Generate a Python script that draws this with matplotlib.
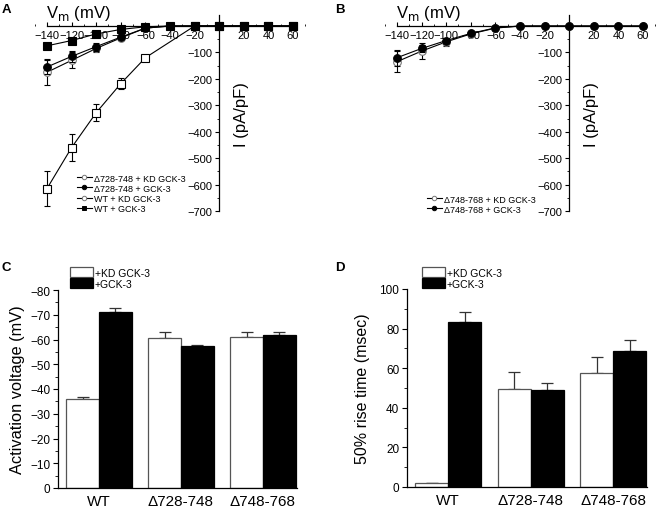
import numpy as np
import matplotlib
matplotlib.use("Agg")
import matplotlib.pyplot as plt
from matplotlib.patches import Patch
from matplotlib.lines import Line2D
from matplotlib.ticker import MultipleLocator

plt.rcParams['font.family'] = ['Liberation Sans', 'DejaVu Sans']

# ---------------- data ----------------
volts = [-140, -120, -100, -80, -60, -40, -20, 0, 20, 40, 60]
volts_wt_kd = [-140, -120, -100, -80, -60, -20, 0, 20, 40, 60]

wt_kd = [-615, -460, -328, -218, -120, 0, 0, 0, 0, 0]
wt_kd_err = [65, 50, 32, 20, 5, 0, 0, 0, 0, 0]
wt_gck = [-75, -55, -30, -13, -3, 0, 0, 0, 0, 0, 0]
wt_gck_err = [4, 4, 3, 2, 1, 0, 0, 0, 0, 0, 0]
d728_kd = [-175, -130, -85, -45, -8, 0, 0, 0, 0, 0, 0]
d728_kd_err = [50, 30, 15, 6, 2, 0, 0, 0, 0, 0, 0]
d728_gck = [-155, -115, -78, -42, -8, 0, 0, 0, 0, 0, 0]
d728_gck_err = [25, 20, 15, 6, 2, 0, 0, 0, 0, 0, 0]

d748_kd = [-135, -95, -60, -30, -8, 0, 0, 0, 0, 0, 0]
d748_kd_err = [40, 30, 15, 6, 2, 0, 0, 0, 0, 0, 0]
d748_gck = [-120, -85, -55, -28, -7, 0, 0, 0, 0, 0, 0]
d748_gck_err = [30, 15, 10, 5, 2, 0, 0, 0, 0, 0, 0]

groups = ['WT', 'Δ728-748', 'Δ748-768']
act_kd = [-36.0, -60.8, -61.2]
act_kd_err = [0.7, 2.1, 1.7]
act_gck = [-71.0, -57.3, -61.7]
act_gck_err = [1.6, 0.5, 1.4]

rise_kd = [1.8, 49.7, 57.5]
rise_kd_err = [0.3, 8.5, 8.0]
rise_gck = [83.3, 49.1, 68.9]
rise_gck_err = [5.0, 3.5, 5.5]

W, H = 656, 510
fig = plt.figure(figsize=(W / 100, H / 100), dpi=100)


def px_axes(x0, y0, x1, y1):
    return fig.add_axes([x0 / W, 1 - y1 / H, (x1 - x0) / W, (y1 - y0) / H])


def iv_axes(xpix140):
    sx = 246 / 200.0
    sy = 185 / 700.0
    xlo, xhi = -150, 70
    ylo, yhi = -720, 45
    x0 = xpix140 + (xlo + 140) * sx
    x1 = xpix140 + (xhi + 140) * sx
    y0 = 27 - yhi * sy
    y1 = 27 - ylo * sy
    ax = px_axes(x0, y0, x1, y1)
    ax.set_xlim(xlo, xhi)
    ax.set_ylim(ylo, yhi)
    ax.patch.set_alpha(0)
    for s in ['top', 'right']:
        ax.spines[s].set_visible(False)
    ax.spines['left'].set_position(('data', 0))
    ax.spines['bottom'].set_position(('data', 0))
    ax.spines['left'].set_bounds(-700, 40)
    ax.spines['bottom'].set_bounds(-140, 60)
    for s in ['left', 'bottom']:
        ax.spines[s].set_linewidth(0.9)
    ax.set_xticks([v for v in range(-140, 61, 20) if v != 0])
    ax.xaxis.set_minor_locator(MultipleLocator(10))
    ax.set_yticks(list(range(-700, 0, 100)))
    ax.yaxis.set_minor_locator(MultipleLocator(50))
    ax.tick_params(axis='x', which='both', direction='in', labelsize=8, pad=3)
    ax.tick_params(axis='x', which='major', length=3)
    ax.tick_params(axis='x', which='minor', length=1.5)
    ax.tick_params(axis='y', which='both', direction='out', labelsize=8, pad=2)
    ax.tick_params(axis='y', which='major', length=3)
    ax.tick_params(axis='y', which='minor', length=1.5)
    ax.text(-141, 14, r'V$_\mathrm{m}$ (mV)', fontsize=12, ha='left', va='bottom')
    ax.text(12, -330, 'I (pA/pF)', fontsize=12, rotation=90, ha='left', va='center')
    return ax


def series(ax, x, y, e, marker, filled, mec='black', label=None, z=3):
    ax.errorbar(x, y, yerr=e, color='black', lw=0.8, elinewidth=0.8, capsize=2.5,
                capthick=0.8, marker=marker, ms=5.5,
                mfc='black' if filled else 'white', mec=mec, mew=0.8,
                label=label, zorder=z)


# ---------------- Panel A ----------------
axA = iv_axes(47)
series(axA, volts_wt_kd, wt_kd, wt_kd_err, 's', False, z=3)
series(axA, volts, d728_kd, d728_kd_err, 'o', False, mec='#777777', z=4)
series(axA, volts, d728_gck, d728_gck_err, 'o', True, z=5)
series(axA, volts, wt_gck, wt_gck_err, 's', True, z=6)


def leg_handle(marker, filled, mec='black'):
    return Line2D([], [], color='black', lw=0.8, marker=marker, ms=3.2,
                  mfc='black' if filled else 'white', mec=mec, mew=0.7)


leg_kw = dict(frameon=False, fontsize=6.5, handlelength=1.7, handletextpad=0.25,
              labelspacing=0.12, borderpad=0, numpoints=1, loc='upper left')

hA = [leg_handle('o', False, '#777777'), leg_handle('o', True),
      leg_handle('o', False, '#777777'), leg_handle('s', True)]
lA = ['Δ728-748 + KD GCK-3', 'Δ728-748 + GCK-3', 'WT + KD GCK-3', 'WT + GCK-3']
fig.legend(hA, lA, bbox_to_anchor=(72 / W, 1 - 170 / H), **leg_kw)

# ---------------- Panel B ----------------
axB = iv_axes(397)
series(axB, volts, d748_kd, d748_kd_err, 'o', False, mec='#777777', z=4)
series(axB, volts, d748_gck, d748_gck_err, 'o', True, z=5)
hB = [leg_handle('o', False, '#777777'), leg_handle('o', True)]
lB = ['Δ748-768 + KD GCK-3', 'Δ748-768 + GCK-3']
fig.legend(hB, lB, bbox_to_anchor=(422 / W, 1 - 191 / H), **leg_kw)


# ---------------- Bar panels ----------------
def bar_axes(x0, ytop, ybot, step):
    ax = px_axes(x0, ytop, x0 + 3 * step, ybot)
    ax.set_xlim(-0.5, 2.5)
    for s in ['top', 'right']:
        ax.spines[s].set_visible(False)
    ax.spines['bottom'].set_bounds(-0.5, 2.41)
    for s in ['left', 'bottom']:
        ax.spines[s].set_linewidth(0.9)
    ax.set_xticks(range(3))
    ax.set_xticklabels(groups, fontsize=11)
    ax.tick_params(axis='x', length=0, pad=4)
    ax.tick_params(axis='y', which='both', direction='out', labelsize=8.5, pad=2)
    ax.tick_params(axis='y', which='major', length=3.5)
    ax.tick_params(axis='y', which='minor', length=2)
    return ax


def bars(ax, kd, kde, gck, gcke):
    x = np.arange(3)
    w = 0.4
    ax.bar(x - w / 2, kd, w, color='white', edgecolor='#555555', lw=0.9, zorder=2)
    ax.bar(x + w / 2, gck, w, color='black', edgecolor='black', lw=0.9, zorder=2)
    sgn = np.sign(kd[0]) if kd[0] != 0 else 1
    for xs, v, e in ((x - w / 2, kd, kde), (x + w / 2, gck, gcke)):
        ev = np.array(e)
        if sgn < 0:
            yerr = [ev, np.zeros(3)]
        else:
            yerr = [np.zeros(3), ev]
        ax.errorbar(xs, v, yerr=yerr, fmt='none', ecolor='#333333', elinewidth=0.9,
                    capsize=4, capthick=0.9, zorder=1)


axC = bar_axes(58, 291, 489, 82)
bars(axC, act_kd, act_kd_err, act_gck, act_gck_err)
axC.set_ylim(0, -80)
axC.set_yticks(range(0, -81, -10))
axC.yaxis.set_minor_locator(MultipleLocator(5))
axC.set_ylabel('Activation voltage (mV)', fontsize=11.8, labelpad=4)

axD = bar_axes(407, 290, 488, 82.5)
bars(axD, rise_kd, rise_kd_err, rise_gck, rise_gck_err)
axD.set_ylim(0, 100)
axD.set_yticks(range(0, 101, 20))
axD.yaxis.set_minor_locator(MultipleLocator(10))
axD.set_ylabel('50% rise time (msec)', fontsize=11.5, labelpad=7)

hbar = [Patch(facecolor='white', edgecolor='#555555', lw=0.9),
        Patch(facecolor='black', edgecolor='black', lw=0.9)]
lbar = ['+KD GCK-3', '+GCK-3']
for xl in (65, 417):
    fig.legend(hbar, lbar, loc='upper left', bbox_to_anchor=(xl / W, 1 - 263 / H),
               frameon=False, fontsize=7.5, handlelength=2.2, handleheight=1.05,
               handletextpad=0.15, labelspacing=0.05, borderpad=0)

# panel letters
for lt, (x, y) in zip('ABCD', [(2, 10), (335, 10), (2, 268), (335, 268)]):
    fig.text(x / W, 1 - y / H, lt, fontsize=9.5, fontweight='bold', ha='left', va='center')

fig.savefig('out.png', dpi=100)
